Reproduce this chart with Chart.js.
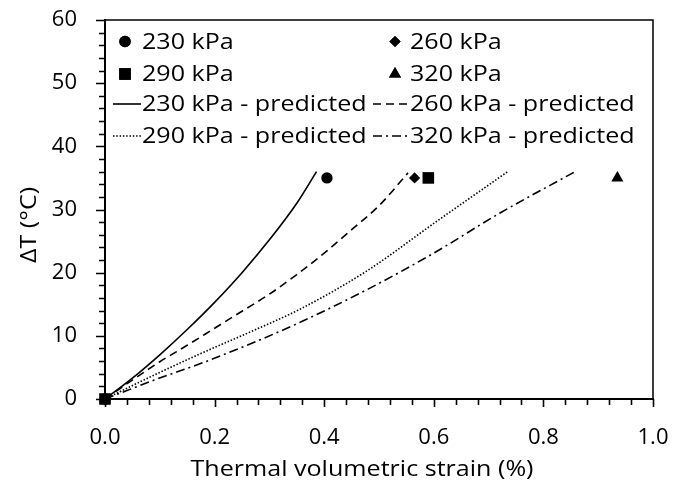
<!DOCTYPE html>
<html>
<head>
<meta charset="utf-8">
<script src="https://cdn.jsdelivr.net/npm/chart.js@4.4.1/dist/chart.umd.min.js"></script>
<style>
html,body{margin:0;padding:0;background:#fff;}
#wrap{width:673px;height:486px;}
</style>
</head>
<body>
<div id="wrap"><canvas id="c" width="673" height="486"></canvas></div>
<script>
// ΔT vs thermal volumetric strain — measured points and predicted curves
const FONT = "'Open Sans', sans-serif";
const STRETCH = 1.14; // reference text is wider than it is tall

const xTicks = [0, 0.2, 0.4, 0.6, 0.8, 1.0];
const yTicks = [0, 10, 20, 30, 40, 50, 60];
const xTitle = "Thermal volumetric strain (%)";
const yTitle = "ΔT (°C)";

// measured [strain %, ΔT]
const meas230 = [[0, 0], [0.405, 35]];
const meas260 = [[0, 0], [0.565, 35]];
const meas290 = [[0, 0], [0.59, 35]];
const meas320 = [[0, 0], [0.935, 35]];

// predicted curves
const pred230 = [[0, 0], [0.05, 3.3], [0.10, 7.0], [0.15, 11.0], [0.20, 15.3], [0.25, 20.0], [0.30, 25.2], [0.35, 31.0], [0.386, 36]];
const pred260 = [[0, 0], [0.05, 3.0], [0.10, 5.9], [0.15, 8.5], [0.20, 11.2], [0.25, 13.9], [0.30, 16.6], [0.35, 19.7], [0.40, 23.1], [0.45, 26.8], [0.50, 30.6], [0.553, 35.8]];
const pred290 = [[0, 0], [0.09, 3.8], [0.18, 7.4], [0.27, 10.8], [0.36, 14.4], [0.48, 20.4], [0.60, 27.8], [0.735, 36]];
const pred320 = [[0, 0], [0.09, 3.0], [0.18, 5.8], [0.27, 8.9], [0.36, 12.3], [0.48, 17.4], [0.60, 23.1], [0.72, 29.4], [0.858, 36]];

const pts = a => a.map(p => ({x: p[0], y: p[1]}));

function markerSet(label, data, style, r){
  return { type:"scatter", label, data:pts(data), pointStyle:style, pointRadius:r, pointHoverRadius:r,
    backgroundColor:"#000", borderColor:"#000", borderWidth:0, showLine:false, clip:false };
}
function curveSet(label, data, dash){
  return { type:"line", label, data:pts(data), borderColor:"#000", borderWidth:1.6, borderDash:dash,
    pointRadius:0, fill:false, cubicInterpolationMode:"monotone" };
}

const datasets = [
  markerSet("230 kPa", meas230, "circle", 5.7),
  markerSet("260 kPa", meas260, "rectRot", 5.6),
  markerSet("290 kPa", meas290, "rect", 8.2),
  markerSet("320 kPa", meas320, "triangle", 7),
  curveSet("230 kPa - predicted", pred230, []),
  curveSet("260 kPa - predicted", pred260, [8, 5]),
  curveSet("290 kPa - predicted", pred290, [1.5, 1.8]),
  curveSet("320 kPa - predicted", pred320, [9, 4, 2, 4])
];

function stretchText(ctx, txt, x, y, align){
  const w = ctx.measureText(txt).width * STRETCH;
  let left = x;
  if(align === "center") left = x - w/2;
  else if(align === "right") left = x - w;
  ctx.save();
  ctx.translate(left, y);
  ctx.scale(STRETCH, 1);
  ctx.textAlign = "left";
  ctx.fillText(txt, 0, 0);
  ctx.restore();
}

const decor = {
  id:"decor",
  afterDraw(chart){
    const ctx = chart.ctx, a = chart.chartArea;
    const xs = chart.scales.x, ys = chart.scales.y;
    ctx.save();
    ctx.strokeStyle = "#000";
    // frame top/right
    ctx.lineWidth = 1.5;
    ctx.beginPath();
    ctx.moveTo(a.left, a.top); ctx.lineTo(a.right, a.top); ctx.lineTo(a.right, a.bottom);
    ctx.stroke();
    // tick marks, major + minor
    ctx.lineWidth = 1.6;
    ctx.beginPath();
    for(let i = 0; i <= 25; i++){
      const px = Math.round(xs.getPixelForValue(i*0.04)) + 0.5;
      const len = i % 5 === 0 ? 8 : 6;
      ctx.moveTo(px, a.bottom); ctx.lineTo(px, a.bottom + len);
    }
    for(let i = 0; i <= 30; i++){
      const py = Math.round(ys.getPixelForValue(i*2)) + 0.5;
      const len = i % 5 === 0 ? 9 : 6;
      ctx.moveTo(a.left, py); ctx.lineTo(a.left - len, py);
    }
    ctx.stroke();

    // axis titles
    ctx.fillStyle = "#000";
    ctx.font = "22px " + FONT;
    ctx.textBaseline = "alphabetic";
    stretchText(ctx, xTitle, 362, 476, "center");
    ctx.save();
    ctx.translate(36, 225);
    ctx.rotate(-Math.PI/2);
    stretchText(ctx, yTitle, 0, 0, "center");
    ctx.restore();

    // legend: two columns, four rows
    const colMark = [125, 395], colText = [142, 410], colLine = [[113, 141], [373, 409]];
    const rowY = [41.5, 74, 104, 136];
    ctx.textBaseline = "middle";
    chart.data.datasets.forEach((ds, i) => {
      const row = Math.floor(i/2), col = i % 2, y = rowY[row];
      if(ds.type === "scatter"){
        Chart.helpers.drawPoint(ctx, {pointStyle:ds.pointStyle, radius:ds.pointRadius, rotation:0, borderWidth:0}, colMark[col], y);
        ctx.fillStyle = "#000"; ctx.fill();
        stretchText(ctx, ds.label, colText[col], y + 1, "left");
      } else {
        ctx.save();
        ctx.lineWidth = 1.6;
        ctx.setLineDash(ds.borderDash);
        ctx.beginPath();
        ctx.moveTo(colLine[col][0], y); ctx.lineTo(colLine[col][1], y);
        ctx.stroke();
        ctx.restore();
        stretchText(ctx, ds.label, colText[col], y + 1, "left");
      }
    });
    ctx.restore();
  }
};

new Chart(document.getElementById("c"), {
  type:"scatter",
  data:{ datasets },
  options:{
    responsive:false, animation:false, devicePixelRatio:1,
    layout:{ padding:{ left:0, right:20, top:20, bottom:0 } },
    plugins:{ legend:{display:false}, tooltip:{enabled:false} },
    scales:{
      x:{
        type:"linear", min:0, max:1,
        afterBuildTicks: s => { s.ticks = xTicks.map(v => ({value:v})); },
        afterFit: s => { s.height = 87; s.paddingLeft = 0; s.paddingRight = 0; },
        ticks:{ color:"#000", font:{family:FONT, size:22}, padding:26, maxRotation:0, callback:v => v.toFixed(1) },
        grid:{ display:false, drawTicks:false },
        border:{ color:"#000", width:2 }
      },
      y:{
        type:"linear", min:0, max:60,
        afterBuildTicks: s => { s.ticks = yTicks.map(v => ({value:v})); },
        afterFit: s => { s.width = 105; s.paddingTop = 0; s.paddingBottom = 0; },
        ticks:{ color:"#000", font:{family:FONT, size:22}, padding:28 },
        grid:{ display:false, drawTicks:false },
        border:{ color:"#000", width:2 }
      }
    }
  },
  plugins:[decor]
});
</script>
</body>
</html>
